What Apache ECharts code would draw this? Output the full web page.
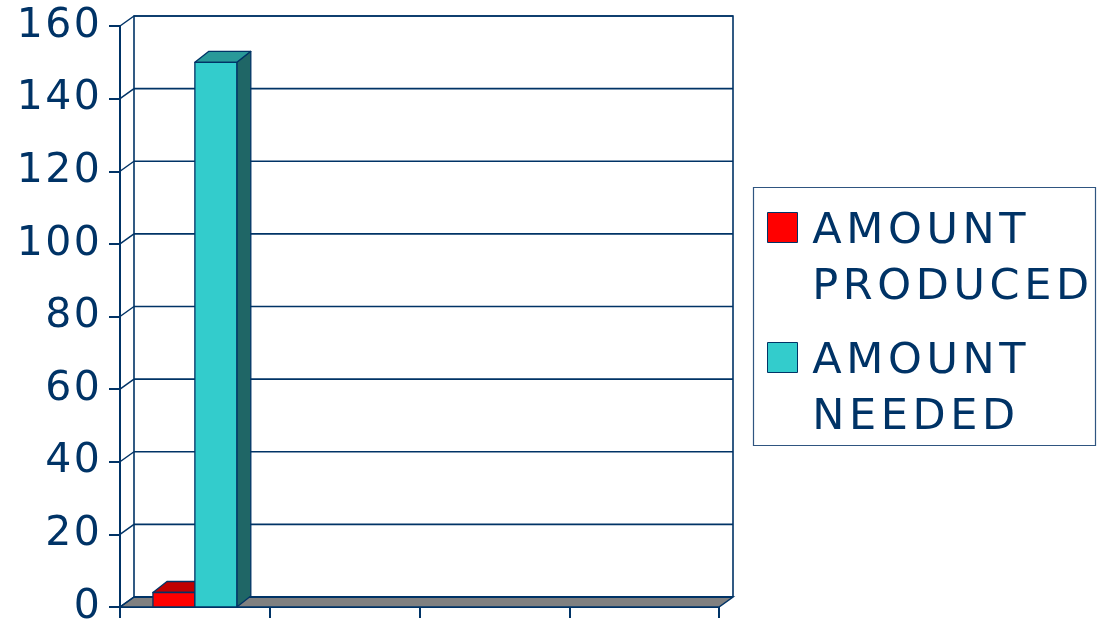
<!DOCTYPE html>
<html>
<head>
<meta charset="utf-8">
<style>
  html, body { margin: 0; padding: 0; background: #ffffff; }
  #chart { width: 1098px; height: 622px; }
</style>
<script src="https://cdn.jsdelivr.net/npm/echarts@6/dist/echarts.min.js"></script>
</head>
<body>
<div id="chart"></div>
<script>
// ---- data ----
const categories = ['1', '2', '3', '4'];
const seriesNames = ['AMOUNT PRODUCED', 'AMOUNT NEEDED'];
const amountProduced = [4, null, null, null];
const amountNeeded = [150, null, null, null];
const yMin = 0, yMax = 160, yStep = 20;

// ---- style ----
const NAVY = '#003366';
const FONT = 'DejaVu Sans';
const DX = 14, DY = -10;          // depth of the 3D box
const BAR_DX = 14, BAR_DY = -11;  // depth of each column
const BAR_FRAC = 0.28;            // column width as a share of a category band
const barColors = [
  { front: '#ff0000', top: '#c00000', side: '#990000' },
  { front: '#33cccc', top: '#299999', side: '#1f6666' }
];

const yTicks = [];
for (let v = yMin; v <= yMax; v += yStep) yTicks.push(v);

// wide letter spacing: every character becomes its own padded rich token
function spaced(str) {
  return String(str).split('').map(function (c) { return '{c|' + c + '}'; }).join('');
}

const chart = echarts.init(document.getElementById('chart'), null, { renderer: 'canvas' });

// floor, back wall, side wall and the gridlines on the back wall
function renderWalls(params, api) {
  const band = api.size([1, 0])[0];
  const left = api.coord([0, yMin])[0] - band / 2;
  const right = api.coord([categories.length - 1, yMin])[0] + band / 2;
  const y0 = api.coord([0, yMin])[1];
  const yTop = api.coord([0, yMax])[1];
  const children = [];
  children.push({
    type: 'polygon',
    shape: { points: [[left, y0], [right, y0], [right + DX, y0 + DY], [left + DX, y0 + DY]] },
    style: { fill: '#808080', stroke: NAVY, lineWidth: 1.5 }
  });
  children.push({
    type: 'polyline',
    shape: { points: [[left + DX, y0 + DY], [left + DX, yTop + DY], [right + DX, yTop + DY], [right + DX, y0 + DY]] },
    style: { fill: null, stroke: NAVY, lineWidth: 1.6 }
  });
  yTicks.forEach(function (v) {
    const y = api.coord([0, v])[1];
    children.push({
      type: 'line',
      shape: { x1: left + DX, y1: y + DY, x2: right + DX, y2: y + DY },
      style: { stroke: NAVY, lineWidth: v === yMin ? 2 : 1.6 }
    });
    children.push({
      type: 'line',
      shape: { x1: left, y1: y, x2: left + DX, y2: y + DY },
      style: { stroke: NAVY, lineWidth: 1.5 }
    });
  });
  return { type: 'group', children: children };
}

function makeBarRenderer(seriesIndex) {
  const col = barColors[seriesIndex];
  return function (params, api) {
    const val = api.value(1);
    if (val == null || isNaN(val)) return null;
    const cat = api.value(0);
    const band = api.size([1, 0])[0];
    const w = band * BAR_FRAC;
    const center = api.coord([cat, val])[0];
    const x0 = center - w + seriesIndex * w;
    const x1 = x0 + w;
    const yt = api.coord([cat, val])[1];
    const yb = api.coord([cat, yMin])[1];
    const stroke = { stroke: NAVY, lineWidth: 1.3, lineJoin: 'round' };
    return {
      type: 'group',
      children: [
        { type: 'polygon',
          shape: { points: [[x1, yb], [x1 + BAR_DX, yb + BAR_DY], [x1 + BAR_DX, yt + BAR_DY], [x1, yt]] },
          style: Object.assign({ fill: col.side }, stroke) },
        { type: 'polygon',
          shape: { points: [[x0, yt], [x1, yt], [x1 + BAR_DX, yt + BAR_DY], [x0 + BAR_DX, yt + BAR_DY]] },
          style: Object.assign({ fill: col.top }, stroke) },
        { type: 'rect',
          shape: { x: x0, y: yt, width: w, height: yb - yt },
          style: Object.assign({ fill: col.front }, stroke) }
      ]
    };
  };
}

// legend box drawn as graphic elements
const legendChildren = [
  { type: 'rect', shape: { x: 753.5, y: 187.5, width: 342, height: 258 },
    style: { fill: '#ffffff', stroke: '#2f5580', lineWidth: 1.2 } }
];
const legendRows = [212, 342];
seriesNames.forEach(function (name, i) {
  const top = legendRows[i];
  legendChildren.push({ type: 'rect', shape: { x: 767.5, y: top + 0.5, width: 30, height: 30 },
    style: { fill: barColors[i].front, stroke: NAVY, lineWidth: 1 } });
  name.split(' ').forEach(function (word, j) {
    legendChildren.push({ type: 'text', x: 810, y: top + 20 + j * 56,
      style: {
        text: spaced(word),
        verticalAlign: 'middle',
        rich: { c: { fill: NAVY, fontSize: 43, fontFamily: FONT, padding: [0, 2.3, 0, 2.3] } }
      } });
  });
});

const option = {
  backgroundColor: '#ffffff',
  animation: false,
  grid: { left: 120, right: 379, top: 26, bottom: 15, containLabel: false, outerBoundsMode: 'none' },
  xAxis: {
    type: 'category',
    data: categories,
    boundaryGap: true,
    axisLine: { show: true, lineStyle: { color: NAVY, width: 2 } },
    axisTick: { show: true, length: 11, lineStyle: { color: NAVY, width: 2 } },
    axisLabel: { show: false },
    splitLine: { show: false }
  },
  yAxis: {
    type: 'value',
    min: yMin, max: yMax, interval: yStep,
    axisLine: { show: true, lineStyle: { color: NAVY, width: 2 } },
    axisTick: { show: true, length: 11, lineStyle: { color: NAVY, width: 2 } },
    axisLabel: {
      margin: 19,
      formatter: function (v) { return spaced(v); },
      rich: { c: { color: NAVY, fontSize: 41, fontFamily: FONT, width: 28.5, align: 'center' } }
    },
    splitLine: { show: false }
  },
  series: [
    { name: 'walls', type: 'custom', renderItem: renderWalls, data: [[0, 0]], z: 1, silent: true },
    { name: seriesNames[0], type: 'custom', renderItem: makeBarRenderer(0),
      data: amountProduced.map(function (v, i) { return [i, v == null ? NaN : v]; }), z: 3 },
    { name: seriesNames[1], type: 'custom', renderItem: makeBarRenderer(1),
      data: amountNeeded.map(function (v, i) { return [i, v == null ? NaN : v]; }), z: 4 }
  ],
  graphic: [{ type: 'group', children: legendChildren }]
};

chart.setOption(option);
</script>
</body>
</html>
